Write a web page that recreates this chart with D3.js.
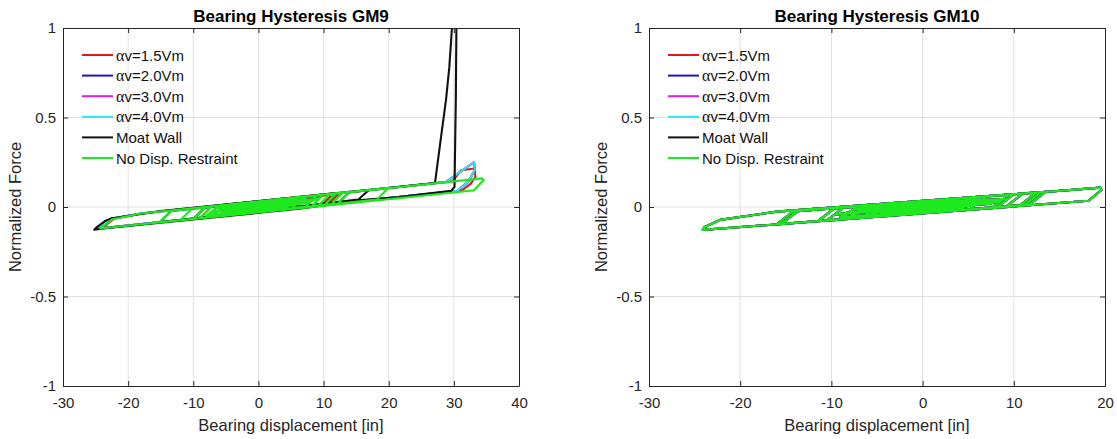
<!DOCTYPE html>
<html>
<head>
<meta charset="utf-8">
<script src="https://cdnjs.cloudflare.com/ajax/libs/d3/7.8.5/d3.min.js"></script>
<style>
  body { margin: 0; background: #fff; }
  svg text { font-family: "Liberation Sans", Arial, sans-serif; }
</style>
</head>
<body>
<svg id="chart" width="1117" height="439"></svg>
<script>
const yTicks = [-1, -0.5, 0, 0.5, 1];
const xTicksGM9 = [-30, -20, -10, 0, 10, 20, 30, 40];
const xTicksGM10 = [-30, -20, -10, 0, 10, 20];

const legendLabels = ["αv=1.5Vm", "αv=2.0Vm", "αv=3.0Vm", "αv=4.0Vm", "Moat Wall", "No Disp. Restraint"];
const lineColors = ["#e01b1b", "#1717b8", "#e31ce3", "#30e3ee", "#111111", "#1ee81e"];

// GM9 loops, [displacement in, normalized force]
const gm9Red = [[0,0],[12.5,0.079],[10.7,0.014],[-9,-0.063],[-7.2,0.001],[29.8,0.143],[31.1,0.205],[33.2,0.215],[33.3,0.168],[32.6,0.131],[31.4,0.097],[30.2,0.085],[-24,-0.119],[-22.2,-0.066],[-18,-0.036],[11.5,0.076],[9.7,0.011],[-5,-0.049],[-3.2,0.016],[4,0.048],[2.2,-0.017],[0,-0.030]];

const gm9Cyan = [[0,0],[7.5,0.061],[5.7,-0.004],[-10,-0.067],[-8.2,-0.002],[28.8,0.140],[33.1,0.250],[33.2,0.205],[32.2,0.140],[30.5,0.090],[-24.6,-0.121],[-22.6,-0.066],[-18,-0.036],[12,0.077],[10.2,0.013],[-6,-0.052],[-4.2,0.012],[3,0.044],[1.2,-0.021],[0,-0.030]];

// 2.0Vm and 3.0Vm are not seen in the picture, they sit under the 4.0Vm curve
const gm9Blue = gm9Cyan;
const gm9Magenta = gm9Cyan;

const gm9Moat = [[0,0],[4,0.048],[2.2,-0.017],[-3,-0.041],[-1.2,0.024],[6,0.055],[4.2,-0.009],[-6,-0.052],[-4.2,0.012],[9,0.066],[7.2,0.002],[-8,-0.060],[-6.2,0.005],[12,0.077],[10.2,0.013],[-10,-0.067],[-8.2,-0.002],[17,0.096],[15.3,0.041],[-15.2,-0.086],[-13.4,-0.022],[27.1,0.134],[28.1,0.41],[28.8,0.60],[29.3,0.78],[29.8,1.05],[30.1,1.25],[30.4,1.05],[30.3,0.60],[30.1,0.112],[29.6,0.090],[21.5,0.056],[15.4,0.037],[6.3,-0.010],[-23.5,-0.118],[-25.2,-0.127],[-24.8,-0.112],[-23.6,-0.080],[-22.7,-0.065],[-15,-0.022],[14,0.085],[12.2,0.020],[-5,-0.049],[-3.2,0.016],[7,0.059],[5.2,-0.006],[-2,-0.037],[-0.2,0.027],[3,0.044],[1.2,-0.021],[0,-0.030]];

const gm9Free = [[0,0],
  [5,0.028],[3.5,0.011],[-5,-0.025],[-3.5,-0.008],
  [7,0.043],[5.5,0.010],[-4,-0.029],[-2.5,0.004],
  [4,0.040],[2.5,-0.009],[-7,-0.048],[-5.5,0.001],
  [8,0.033],[6.5,0.028],[-6,-0.022],[-4.5,-0.018],
  [6,0.043],[4.5,0.003],[-8,-0.048],[-6.5,-0.007],
  [9,0.046],[7.5,0.022],[-3,-0.021],[-1.5,0.003],
  [3,0.040],[1.5,-0.016],[-6,-0.048],[-4.5,0.008],
  [7.5,0.034],[6,0.023],[-7.5,-0.031],[-6,-0.020],
  [4,0.048],[2.2,-0.017],[-3,-0.041],[-1.2,0.024],[6,0.055],[4.2,-0.009],[-6,-0.052],[-4.2,0.012],[9,0.066],[7.2,0.002],[-8,-0.060],[-6.2,0.005],[12,0.077],[10.2,0.013],[-10,-0.067],[-8.2,-0.002],[11,0.074],[9.2,0.009],[-12,-0.074],[-10.2,-0.010],[13,0.081],[11.2,0.016],[-7,-0.056],[-5.2,0.009],[10,0.070],[8.2,0.005],[-9,-0.063],[-7.2,0.001],[20,0.107],[18.2,0.042],[-15.2,-0.086],[-13.4,-0.022],[34.3,0.160],[34.6,0.152],[33.1,0.094],[30,0.081],[-24.3,-0.120],[-22.4,-0.068],[-18,-0.036],[14,0.085],[12.2,0.020],[-5,-0.049],[-3.2,0.016],[7,0.059],[5.2,-0.006],[-2,-0.037],[-0.2,0.027],[3,0.044],[1.2,-0.021],[0,-0.030]];

// GM10: all six cases give the same loop, the green one ends up on top
const gm10Free = [[0,0],
  [5,0.027],[3.5,0.007],[-6,-0.033],[-4.5,-0.013],
  [7,0.043],[5.5,0.007],[-4,-0.033],[-2.5,0.003],
  [4,0.040],[2.5,-0.014],[-8,-0.057],[-6.5,-0.004],
  [8,0.032],[6.5,0.025],[-7,-0.031],[-5.5,-0.023],
  [6,0.044],[4.5,-0.002],[-9,-0.057],[-7.5,-0.012],
  [9,0.046],[7.5,0.019],[-3,-0.025],[-1.5,0.002],
  [3,0.041],[1.5,-0.022],[-6.5,-0.057],[-5,0.007],
  [7.5,0.034],[6,0.020],[-9.5,-0.043],[-8,-0.029],
  [3,0.045],[1.2,-0.026],[-3,-0.047],[-1.2,0.024],[5,0.053],[3.2,-0.019],[-4.5,-0.053],[-2.7,0.019],[6,0.057],[4.2,-0.015],[-6,-0.059],[-4.2,0.013],[9.5,0.070],[7.7,-0.002],[-8,-0.066],[-6.2,0.005],[11,0.076],[9.2,0.004],[-10.5,-0.076],[-8.7,-0.004],[12.5,0.082],[10.7,0.010],[-11.5,-0.080],[-9.7,-0.008],[13.5,0.085],[11.7,0.013],[-15.5,-0.095],[-13.7,-0.023],[19.5,0.108],[19.6,0.095],[18.2,0.035],[-24.1,-0.128],[-23.9,-0.112],[-22.2,-0.072],[-16,-0.026],[13,0.083],[11.2,0.012],[-16,-0.097],[-14.2,-0.025],[10,0.072],[8.2,0.000],[-9,-0.070],[-7.2,0.002],[7,0.061],[5.2,-0.011],[-5,-0.055],[-3.2,0.017],[4,0.049],[2.2,-0.023],[-2,-0.044],[-0.2,0.028],[1,0.038]];

const panels = [
  { title: "Bearing Hysteresis GM9", left: 63, right: 519, xTicks: xTicksGM9,
    series: [gm9Red, gm9Blue, gm9Magenta, gm9Cyan, gm9Moat, gm9Free] },
  { title: "Bearing Hysteresis GM10", left: 649, right: 1105, xTicks: xTicksGM10,
    series: [gm10Free, gm10Free, gm10Free, gm10Free, gm10Free, gm10Free] }
];

const plotTop = 28, plotBottom = 386;
const axisColor = "#262626";
const svg = d3.select("#chart");

panels.forEach(function(p, i) {
  const x = d3.scaleLinear().domain(d3.extent(p.xTicks)).range([p.left, p.right]);
  const y = d3.scaleLinear().domain([-1, 1]).range([plotBottom, plotTop]);
  const g = svg.append("g");

  // grid
  g.selectAll(".gridx").data(p.xTicks.slice(1, -1)).enter().append("line")
    .attr("x1", d => x(d)).attr("x2", d => x(d))
    .attr("y1", plotTop).attr("y2", plotBottom)
    .attr("stroke", "#e2e2e2");
  g.selectAll(".gridy").data(yTicks.slice(1, -1)).enter().append("line")
    .attr("x1", p.left).attr("x2", p.right)
    .attr("y1", d => y(d)).attr("y2", d => y(d))
    .attr("stroke", "#e2e2e2");

  svg.append("clipPath").attr("id", "clip" + i).append("rect")
    .attr("x", p.left).attr("y", plotTop)
    .attr("width", p.right - p.left).attr("height", plotBottom - plotTop);

  const line = d3.line().x(d => x(d[0])).y(d => y(d[1]));
  g.append("g").attr("clip-path", "url(#clip" + i + ")")
    .selectAll("path").data(p.series).enter().append("path")
    .attr("d", line)
    .attr("fill", "none")
    .attr("stroke", (d, k) => lineColors[k])
    .attr("stroke-width", 2.1)
    .attr("stroke-linejoin", "round");

  // box with inward ticks
  const fmt = d => String(d);
  const xb = g.append("g").attr("transform", "translate(0," + plotBottom + ")")
    .call(d3.axisBottom(x).tickValues(p.xTicks).tickFormat(fmt).tickSizeInner(-5).tickSizeOuter(0).tickPadding(11));
  const yl = g.append("g").attr("transform", "translate(" + p.left + ",0)")
    .call(d3.axisLeft(y).tickValues(yTicks).tickFormat(fmt).tickSizeInner(-5).tickSizeOuter(0).tickPadding(7));
  const xt = g.append("g").attr("transform", "translate(0," + plotTop + ")")
    .call(d3.axisTop(x).tickValues(p.xTicks).tickFormat("").tickSizeInner(-5).tickSizeOuter(0));
  const yr = g.append("g").attr("transform", "translate(" + p.right + ",0)")
    .call(d3.axisRight(y).tickValues(yTicks).tickFormat("").tickSizeInner(-5).tickSizeOuter(0));

  [xb, yl, xt, yr].forEach(function(a) {
    a.attr("font-family", null).attr("font-size", 15);
    a.select(".domain").attr("stroke", axisColor);
    a.selectAll(".tick line").attr("stroke", axisColor);
    a.selectAll(".tick text").attr("fill", axisColor);
  });

  // labels
  g.append("text")
    .attr("x", (p.left + p.right) / 2).attr("y", 22)
    .attr("text-anchor", "middle")
    .attr("font-size", 17).attr("font-weight", "bold")
    .text(p.title);

  g.append("text")
    .attr("x", (p.left + p.right) / 2).attr("y", 431)
    .attr("text-anchor", "middle")
    .attr("font-size", 16.5).attr("fill", axisColor)
    .text("Bearing displacement [in]");

  g.append("text")
    .attr("transform", "translate(" + (p.left - 42) + "," + ((plotTop + plotBottom) / 2) + ") rotate(-90)")
    .attr("text-anchor", "middle")
    .attr("font-size", 16.5).attr("fill", axisColor)
    .text("Normalized Force");

  // legend, no box
  legendLabels.forEach(function(lab, k) {
    const ly = plotTop + 27 + k * 20.6;
    g.append("line")
      .attr("x1", p.left + 19).attr("x2", p.left + 50)
      .attr("y1", ly).attr("y2", ly)
      .attr("stroke", lineColors[k]).attr("stroke-width", 2);
    const t = g.append("text")
      .attr("x", p.left + 53).attr("y", ly + 5.5)
      .attr("font-size", 15).attr("fill", "#111");
    if (lab[0] == "α") {
      t.append("tspan").attr("font-family", "'Liberation Serif', serif").attr("font-size", 16).text("α");
      t.append("tspan").text(lab.slice(1));
    } else {
      t.text(lab);
    }
  });
});
</script>
</body>
</html>
